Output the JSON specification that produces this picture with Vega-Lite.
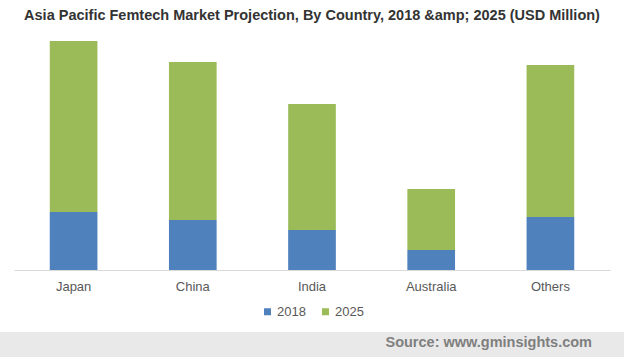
{
  "$schema": "https://vega.github.io/schema/vega-lite/v6.json",
  "padding": {"left": 0, "right": 0, "top": 8, "bottom": 0},
  "background": "white",
  "title": {
    "text": "Asia Pacific Femtech Market Projection, By Country, 2018 &amp; 2025 (USD Million)",
    "font": "Liberation Sans",
    "fontSize": 14.5,
    "fontWeight": "bold",
    "color": "#333333",
    "anchor": "middle",
    "offset": 6.5
  },
  "spacing": 62,
  "center": true,
  "bounds": "flush",
  "config": {
    "view": {"stroke": null},
    "legend": {"layout": {"bottom": {"anchor": "middle"}}}
  },
  "resolve": {"legend": {"color": "independent"}},
  "vconcat": [
    {
      "width": 596,
      "height": 240,
      "data": {
        "values": [
          {"country": "Japan", "year": "2018", "value": 58},
          {"country": "Japan", "year": "2025", "value": 171},
          {"country": "China", "year": "2018", "value": 50},
          {"country": "China", "year": "2025", "value": 158},
          {"country": "India", "year": "2018", "value": 40},
          {"country": "India", "year": "2025", "value": 126},
          {"country": "Australia", "year": "2018", "value": 20},
          {"country": "Australia", "year": "2025", "value": 61},
          {"country": "Others", "year": "2018", "value": 53},
          {"country": "Others", "year": "2025", "value": 152}
        ]
      },
      "mark": {"type": "bar"},
      "encoding": {
        "x": {
          "field": "country",
          "type": "nominal",
          "sort": ["Japan", "China", "India", "Australia", "Others"],
          "scale": {"paddingInner": 0.6, "paddingOuter": 0.3},
          "axis": {
            "title": null,
            "labelAngle": 0,
            "ticks": false,
            "domainColor": "#d9d9d9",
            "domainWidth": 1,
            "labelFont": "Liberation Sans",
            "labelFontSize": 13,
            "labelColor": "#595959",
            "labelPadding": 10
          }
        },
        "y": {
          "field": "value",
          "type": "quantitative",
          "stack": "zero",
          "scale": {"domain": [0, 240]},
          "axis": null
        },
        "color": {
          "field": "year",
          "type": "nominal",
          "scale": {"domain": ["2018", "2025"], "range": ["#4f81bd", "#9bbb59"]},
          "legend": {
            "title": null,
            "orient": "bottom",
            "direction": "horizontal",
            "symbolType": "square",
            "symbolSize": 49,
            "symbolStrokeWidth": 0,
            "labelFont": "Liberation Sans",
            "labelFontSize": 13,
            "labelColor": "#595959",
            "labelOffset": 3,
            "columnPadding": 13,
            "offset": 12
          }
        },
        "order": {"field": "year", "sort": "ascending"}
      }
    },
    {
      "width": 624,
      "height": 26,
      "view": {"fill": "#e9e9e9", "stroke": null},
      "data": {"values": [{"source": "Source: www.gminsights.com"}]},
      "mark": {
        "type": "text",
        "align": "right",
        "baseline": "middle",
        "x": "width",
        "dx": -32,
        "y": "height",
        "dy": -15,
        "font": "Liberation Sans",
        "fontWeight": "bold",
        "fontSize": 14.5,
        "color": "#7f7f7f"
      },
      "encoding": {"text": {"field": "source"}}
    }
  ]
}
